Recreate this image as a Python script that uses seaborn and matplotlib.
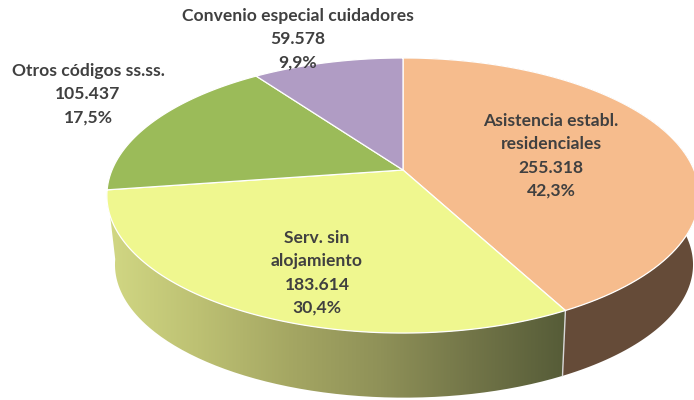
import numpy as np
import matplotlib
matplotlib.use("Agg")
import matplotlib.pyplot as plt
import seaborn as sns
from matplotlib.path import Path
from matplotlib.patches import PathPatch
from matplotlib.transforms import Transform

names = ["Asistencia establ.\nresidenciales", "Serv. sin\nalojamiento",
         "Otros códigos ss.ss.", "Convenio especial cuidadores"]
values = [255318, 183614, 105437, 59578]
value_labels = ["255.318", "183.614", "105.437", "59.578"]
pct_labels = ["42,3%", "30,4%", "17,5%", "9,9%"]
top_colors = ["#f6bc8d", "#eff78f", "#9bbb59", "#b09cc4"]
wall_brown = "#654b38"
wall_stops = ["#d2d884", "#bdc173", "#a5a763", "#8f9158", "#727548", "#565c38"]
label_pos = [(551, 156), (317, 273), (88, 94), (298, 39)]

sns.set_theme(style="white")
plt.rcParams["font.family"] = ["Lato", "DejaVu Sans"]


class Tilt(Transform):
    input_dims = output_dims = 2
    is_separable = False
    has_inverse = False

    def __init__(self, cx, cy, s, c, k):
        super().__init__()
        self.p = (cx, cy, s, c, k)

    def transform_non_affine(self, values):
        cx, cy, s, c, k = self.p
        v = np.asarray(values, float)
        d = 1 + k * v[:, 1]
        return np.column_stack([cx + s * v[:, 0] / d, cy - c * v[:, 1] / d])

    def transform_path_non_affine(self, path):
        t = np.linspace(0, 1, 24)
        pts = [seg(t) for seg, _ in path.iter_bezier()]
        return Path(self.transform_non_affine(np.vstack(pts)), closed=False)


upper = Tilt(403, 170, 291, 132.8, 0.1855)
lower = Tilt(404, 240, 284, 128.4, 0.1855)

fig = plt.figure(figsize=(6.94, 4.0), dpi=100, facecolor="white")
ax = fig.add_axes([0, 0, 1, 1])
wedges, _ = ax.pie(values, colors=top_colors, startangle=90, counterclock=False,
                   wedgeprops=dict(edgecolor="#ffffff", linewidth=0.9, zorder=3))
for w in wedges:
    w.set_transform(upper + ax.transData)


def wall(w):
    t = np.radians(np.linspace(w.theta1, w.theta2, 160))
    pts = np.column_stack([np.cos(t), np.sin(t)])
    return np.vstack([upper.transform(pts), lower.transform(pts)[::-1]])


brown = wall(wedges[0])
ax.add_patch(PathPatch(Path(brown, closed=False), facecolor=wall_brown,
                       edgecolor="none", zorder=1))
green = wall(wedges[1])
grad = np.linspace(0, 1, 256)[None, :]
im = ax.imshow(grad, extent=[105, 565, 400, 180], aspect="auto", zorder=1,
               cmap=sns.blend_palette(wall_stops, 256, as_cmap=True))
clip = PathPatch(Path(green, closed=False), facecolor="none", edgecolor="none",
                 transform=ax.transData)
ax.add_patch(clip)
im.set_clip_path(clip)

# light seam between the two visible walls
seam = np.radians(wedges[0].theta1)
p = np.array([[np.cos(seam), np.sin(seam)]])
u, l = upper.transform(p)[0], lower.transform(p)[0]
ax.plot([u[0], l[0]], [u[1], l[1]], color="#d8d8d8", lw=1.0, zorder=2)

for name, val, pct, (x, y) in zip(names, value_labels, pct_labels, label_pos):
    ax.text(x, y, f"{name}\n{val}\n{pct}", ha="center", va="center", ma="center",
            fontsize=12.6, fontweight="bold", color="#404040", linespacing=1.54, zorder=5)

ax.set_xlim(0, 694)
ax.set_ylim(400, 0)
ax.set_aspect("auto")
ax.axis("off")
fig.savefig("out.png", dpi=100, facecolor="white")
